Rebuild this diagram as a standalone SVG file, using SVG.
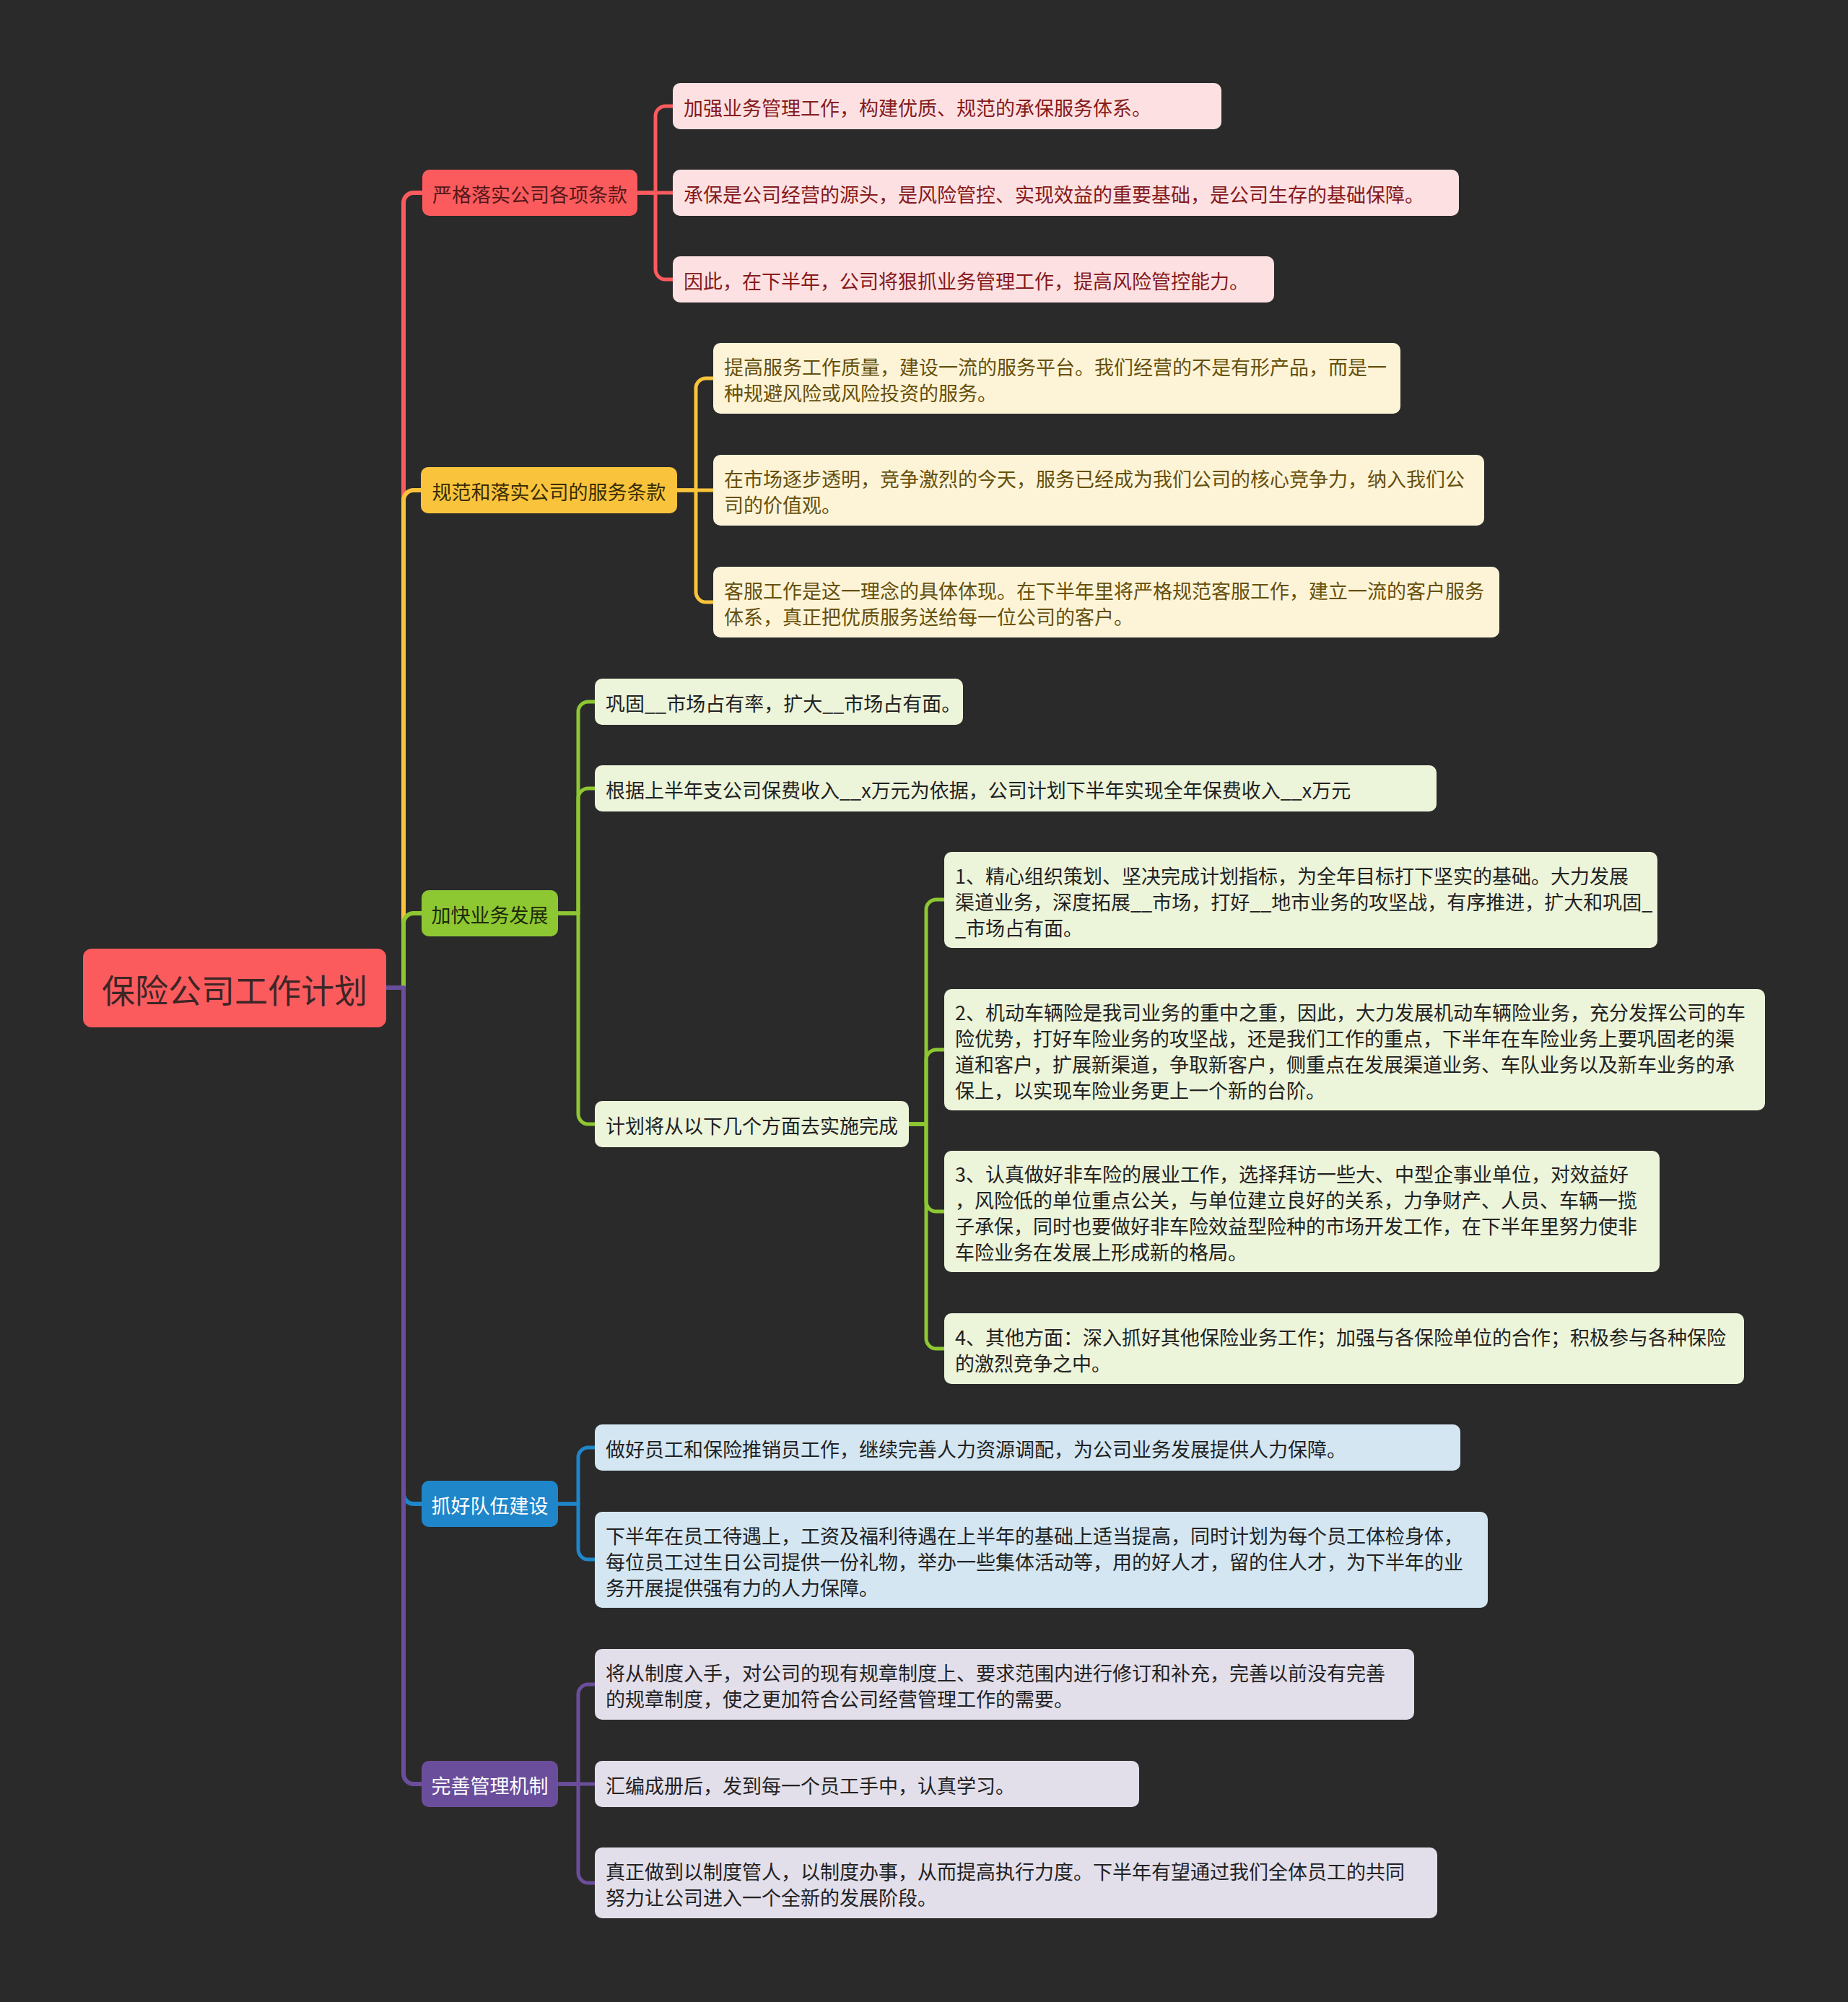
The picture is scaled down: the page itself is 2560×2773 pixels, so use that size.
<svg xmlns="http://www.w3.org/2000/svg" width="2560" height="2773" viewBox="0 0 2560 2773">
<style>
text{font-family:"Noto Sans CJK SC","Microsoft YaHei","Liberation Sans",sans-serif;dominant-baseline:central}
.lf{font-size:27px}
.mid{text-anchor:middle}
.c{fill:none;stroke-linecap:round;stroke-linejoin:round}
.cr{stroke:#FC5B5E}.cy{stroke:#F9C43C}.cg{stroke:#8DC832}.cb{stroke:#1F86C9}.cp{stroke:#6B4E9B}
.bp{fill:#FDE1E2}.tp{fill:#861a1c}
.bc{fill:#FDF4D7}.tc{fill:#66500e}
.bg{fill:#ECF4DA}.bb{fill:#D3E6F2}.bl{fill:#E2DEEA}.td{fill:#222}
</style>
<rect x="0" y="0" width="2560" height="2773" fill="#2a2a2a"/>
<g id="connectors" class="c">
<g stroke-width="6">
<path class="cr" d="M535 1368 H559 V281 A14 14 0 0 1 573 267 H585"/>
<path class="cy" d="M535 1368 H559 V693 A14 14 0 0 1 573 679 H584"/>
<path class="cg" d="M535 1368 H559 V1279 A14 14 0 0 1 573 1265 H584"/>
<path class="cb" d="M535 1368 H559 V2069 A14 14 0 0 0 573 2083 H584"/>
<path class="cp" d="M535 1368 H559 V2457 A14 14 0 0 0 573 2471 H584"/>
</g>
<g stroke-width="5">
<path class="cr" d="M883 267 H908 V161 A14 14 0 0 1 922 147 H932"/>
<path class="cr" d="M883 267 H932"/>
<path class="cr" d="M883 267 H908 V373 A14 14 0 0 0 922 387 H932"/>
<path class="cy" d="M938 679 H964 V538 A14 14 0 0 1 978 524 H988"/>
<path class="cy" d="M938 679 H988"/>
<path class="cy" d="M938 679 H964 V820 A14 14 0 0 0 978 834 H988"/>
<path class="cg" d="M773 1265 H801 V986 A14 14 0 0 1 815 972 H824"/>
<path class="cg" d="M773 1265 H801 V1106 A14 14 0 0 1 815 1092 H824"/>
<path class="cg" d="M773 1265 H801 V1543 A14 14 0 0 0 815 1557 H824"/>
<path class="cg" d="M1259 1557 H1283 V1260 A14 14 0 0 1 1297 1246 H1308"/>
<path class="cg" d="M1259 1557 H1283 V1468 A14 14 0 0 1 1297 1454 H1308"/>
<path class="cg" d="M1259 1557 H1283 V1664 A14 14 0 0 0 1297 1678 H1308"/>
<path class="cg" d="M1259 1557 H1283 V1854 A14 14 0 0 0 1297 1868 H1308"/>
<path class="cb" d="M773 2083 H801 V2019 A14 14 0 0 1 815 2005 H824"/>
<path class="cb" d="M773 2083 H801 V2146 A14 14 0 0 0 815 2160 H824"/>
<path class="cp" d="M773 2471 H801 V2347 A14 14 0 0 1 815 2333 H824"/>
<path class="cp" d="M773 2471 H824"/>
<path class="cp" d="M773 2471 H801 V2594 A14 14 0 0 0 815 2608 H824"/>
</g>
</g>
<g id="root">
<rect x="115" y="1314" width="420" height="109" rx="12" fill="#FC5B5E"/>
<text x="325" y="1369" class="mid" font-size="46" fill="#3d2626">保险公司工作计划</text>
</g>
<g id="n1">
<rect x="585" y="235" width="298" height="64" rx="10" fill="#FC5B5E"/>
<text x="734" y="268" class="mid" font-size="27" fill="#561818">严格落实公司各项条款</text>
</g>
<g id="n1a"><rect x="932" y="115" width="760" height="64" rx="10" class="bp"/>
<text x="947" y="148" class="lf tp">加强业务管理工作，构建优质、规范的承保服务体系。</text></g>
<g id="n1b"><rect x="932" y="235" width="1089" height="64" rx="10" class="bp"/>
<text x="947" y="268" class="lf tp">承保是公司经营的源头，是风险管控、实现效益的重要基础，是公司生存的基础保障。</text></g>
<g id="n1c"><rect x="932" y="355" width="833" height="64" rx="10" class="bp"/>
<text x="947" y="388" class="lf tp">因此，在下半年，公司将狠抓业务管理工作，提高风险管控能力。</text></g>
<g id="n2">
<rect x="583" y="647" width="355" height="64" rx="10" fill="#F9C43C"/>
<text x="760.5" y="680" class="mid" font-size="27" fill="#3a2c05">规范和落实公司的服务条款</text>
</g>
<g id="n2a"><rect x="988" y="475" width="952" height="98" rx="10" class="bc"/>
<text x="1003" y="507" class="lf tc">提高服务工作质量，建设一流的服务平台。我们经营的不是有形产品，而是一</text>
<text x="1003" y="543" class="lf tc">种规避风险或风险投资的服务。</text></g>
<g id="n2b"><rect x="988" y="630" width="1068" height="98" rx="10" class="bc"/>
<text x="1003" y="662" class="lf tc">在市场逐步透明，竞争激烈的今天，服务已经成为我们公司的核心竞争力，纳入我们公</text>
<text x="1003" y="698" class="lf tc">司的价值观。</text></g>
<g id="n2c"><rect x="988" y="785" width="1089" height="98" rx="10" class="bc"/>
<text x="1003" y="817" class="lf tc">客服工作是这一理念的具体体现。在下半年里将严格规范客服工作，建立一流的客户服务</text>
<text x="1003" y="853" class="lf tc">体系，真正把优质服务送给每一位公司的客户。</text></g>
<g id="n3">
<rect x="584" y="1233" width="189" height="64" rx="10" fill="#8DC832"/>
<text x="678.5" y="1266" class="mid" font-size="27" fill="#1f2b0a">加快业务发展</text>
</g>
<g id="n3a"><rect x="824" y="940" width="510" height="64" rx="10" class="bg"/>
<text x="839" y="973" class="lf td">巩固__市场占有率，扩大__市场占有面。</text></g>
<g id="n3b"><rect x="824" y="1060" width="1166" height="64" rx="10" class="bg"/>
<text x="839" y="1093" class="lf td">根据上半年支公司保费收入__x万元为依据，公司计划下半年实现全年保费收入__x万元</text></g>
<g id="n3c"><rect x="824" y="1525" width="435" height="64" rx="10" class="bg"/>
<text x="839" y="1558" class="lf td">计划将从以下几个方面去实施完成</text></g>
<g id="n3c1"><rect x="1308" y="1180" width="988" height="133" rx="10" class="bg"/>
<text x="1323" y="1212" class="lf td">1、精心组织策划、坚决完成计划指标，为全年目标打下坚实的基础。大力发展</text>
<text x="1323" y="1248" class="lf td">渠道业务，深度拓展__市场，打好__地市业务的攻坚战，有序推进，扩大和巩固_</text>
<text x="1323" y="1284" class="lf td">_市场占有面。</text></g>
<g id="n3c2"><rect x="1308" y="1370" width="1137" height="168" rx="10" class="bg"/>
<text x="1323" y="1401" class="lf td">2、机动车辆险是我司业务的重中之重，因此，大力发展机动车辆险业务，充分发挥公司的车</text>
<text x="1323" y="1437" class="lf td">险优势，打好车险业务的攻坚战，还是我们工作的重点，下半年在车险业务上要巩固老的渠</text>
<text x="1323" y="1473" class="lf td">道和客户，扩展新渠道，争取新客户，侧重点在发展渠道业务、车队业务以及新车业务的承</text>
<text x="1323" y="1509" class="lf td">保上，以实现车险业务更上一个新的台阶。</text></g>
<g id="n3c3"><rect x="1308" y="1594" width="991" height="168" rx="10" class="bg"/>
<text x="1323" y="1625" class="lf td">3、认真做好非车险的展业工作，选择拜访一些大、中型企事业单位，对效益好</text>
<text x="1323" y="1661" class="lf td">，风险低的单位重点公关，与单位建立良好的关系，力争财产、人员、车辆一揽</text>
<text x="1323" y="1697" class="lf td">子承保，同时也要做好非车险效益型险种的市场开发工作，在下半年里努力使非</text>
<text x="1323" y="1733" class="lf td">车险业务在发展上形成新的格局。</text></g>
<g id="n3c4"><rect x="1308" y="1819" width="1108" height="98" rx="10" class="bg"/>
<text x="1323" y="1851" class="lf td">4、其他方面：深入抓好其他保险业务工作；加强与各保险单位的合作；积极参与各种保险</text>
<text x="1323" y="1887" class="lf td">的激烈竞争之中。</text></g>
<g id="n4">
<rect x="584" y="2051" width="189" height="64" rx="10" fill="#1F86C9"/>
<text x="678.5" y="2084" class="mid" font-size="27" fill="#ffffff">抓好队伍建设</text>
</g>
<g id="n4a"><rect x="824" y="1973" width="1199" height="64" rx="10" class="bb"/>
<text x="839" y="2006" class="lf td">做好员工和保险推销员工作，继续完善人力资源调配，为公司业务发展提供人力保障。</text></g>
<g id="n4b"><rect x="824" y="2094" width="1237" height="133" rx="10" class="bb"/>
<text x="839" y="2126" class="lf td">下半年在员工待遇上，工资及福利待遇在上半年的基础上适当提高，同时计划为每个员工体检身体，</text>
<text x="839" y="2162" class="lf td">每位员工过生日公司提供一份礼物，举办一些集体活动等，用的好人才，留的住人才，为下半年的业</text>
<text x="839" y="2198" class="lf td">务开展提供强有力的人力保障。</text></g>
<g id="n5">
<rect x="584" y="2439" width="189" height="64" rx="10" fill="#6B4E9B"/>
<text x="678.5" y="2472" class="mid" font-size="27" fill="#ffffff">完善管理机制</text>
</g>
<g id="n5a"><rect x="824" y="2284" width="1135" height="98" rx="10" class="bl"/>
<text x="839" y="2316" class="lf td">将从制度入手，对公司的现有规章制度上、要求范围内进行修订和补充，完善以前没有完善</text>
<text x="839" y="2352" class="lf td">的规章制度，使之更加符合公司经营管理工作的需要。</text></g>
<g id="n5b"><rect x="824" y="2439" width="754" height="64" rx="10" class="bl"/>
<text x="839" y="2472" class="lf td">汇编成册后，发到每一个员工手中，认真学习。</text></g>
<g id="n5c"><rect x="824" y="2559" width="1167" height="98" rx="10" class="bl"/>
<text x="839" y="2591" class="lf td">真正做到以制度管人，以制度办事，从而提高执行力度。下半年有望通过我们全体员工的共同</text>
<text x="839" y="2627" class="lf td">努力让公司进入一个全新的发展阶段。</text></g>
</svg>
